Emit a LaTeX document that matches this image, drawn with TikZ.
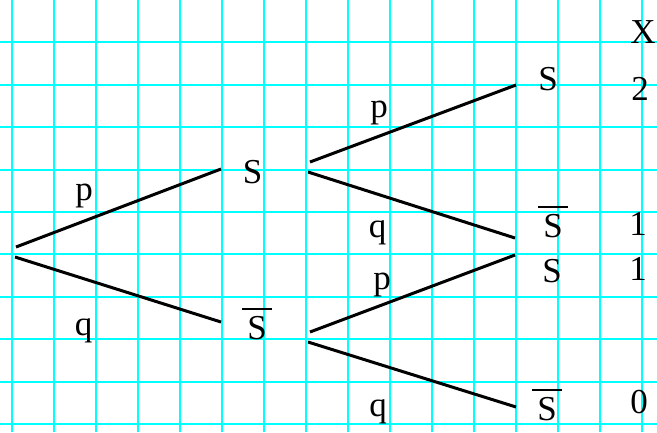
\documentclass[tikz,border=0pt]{standalone}
\usepackage{fontspec}
\setmainfont{Liberation Serif}
\usetikzlibrary{positioning}
\definecolor{gridcyan}{RGB}{0,255,255}

% S with a bar over it
\newcommand{\barS}{\begingroup\setbox0\hbox{\kern5pt S\kern5pt}\vbox{\hrule height 2pt\kern6pt\box0}\endgroup}

\begin{document}
\begin{tikzpicture}[x=1pt,y=-1pt,
  lbl/.style={anchor=base,inner sep=0pt,font=\fontsize{35}{40}\selectfont},
  branch/.style={black,line width=3pt},
  gridline/.style={gridcyan,line width=2.4pt}]
\useasboundingbox (0,0) rectangle (657,432);
% grid
\foreach \i in {0,...,15}
  \draw [gridline] (12+42*\i,0) -- (12+42*\i,432);
\foreach \y in {42,85,127,170,212,254,297,339,382,424}
  \draw [gridline] (0,\y) -- (657,\y);
% end points of the branches
\coordinate (root-a) at (16,247);
\coordinate (root-b) at (15,257);
\coordinate (s-in) at (221,169);
\coordinate (s-a) at (310,162);
\coordinate (s-b) at (308,172);
\coordinate (sb-in) at (221,322);
\coordinate (sb-a) at (310,332);
\coordinate (sb-b) at (308,342);
\coordinate (ss-in) at (516,85);
\coordinate (ssb-in) at (515,238);
\coordinate (sbs-in) at (515,255);
\coordinate (sbsb-in) at (516,407);
% branches
\draw [branch] (root-a) -- (s-in);
\draw [branch] (root-b) -- (sb-in);
\draw [branch] (s-a) -- (ss-in);
\draw [branch] (s-b) -- (ssb-in);
\draw [branch] (sb-a) -- (sbs-in);
\draw [branch] (sb-b) -- (sbsb-in);
% outcomes
\node (s) at (252.5,183) [lbl] {S};
\node (sb) at (257,339) [lbl] {\barS};
\node (ss) at (548,90) [lbl] {S};
\node (ssb) at (553,237) [lbl] {\barS};
\node (sbs) at (552,282) [lbl] {S};
\node (sbsb) at (547,420) [lbl] {\barS};
% probabilities
\node (p-root) at (84,200) [lbl] {p};
\node (q-root) at (83.5,335) [lbl] {q};
\node (p-s) at (379,117) [lbl] {p};
\node (q-s) at (377.5,237) [lbl] {q};
\node (p-sb) at (382,289) [lbl] {p};
\node (q-sb) at (378,416) [lbl] {q};
% values of X
\node (x-head) at (643,43) [lbl] {X};
\node (x-ss) at (640,100) [lbl] {2};
\node (x-ssb) at (638,235) [lbl] {1};
\node (x-sbs) at (638,280) [lbl] {1};
\node (x-sbsb) at (639,413) [lbl] {0};
\end{tikzpicture}
\end{document}
